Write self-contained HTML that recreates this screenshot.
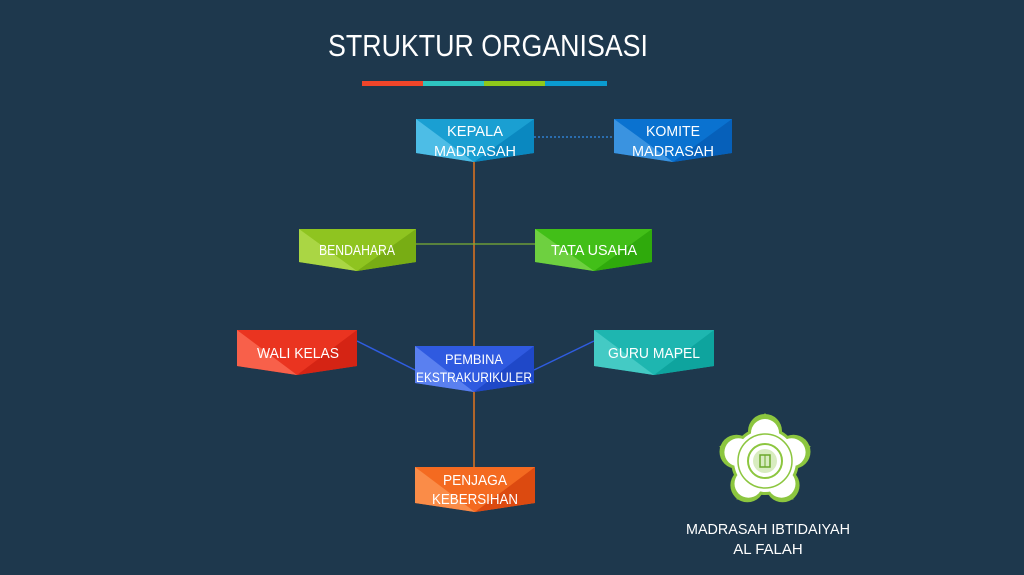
<!DOCTYPE html>
<html><head><meta charset="utf-8"><style>
html,body{margin:0;padding:0;background:#1e384d;}
svg{display:block}
text{font-family:"Liberation Sans",sans-serif;fill:#fff;}
</style></head><body>
<svg width="1024" height="575" viewBox="0 0 1024 575" xmlns="http://www.w3.org/2000/svg">
<rect width="1024" height="575" fill="#1e384d"/>
<text x="328" y="56" font-size="31" textLength="320" lengthAdjust="spacingAndGlyphs">STRUKTUR ORGANISASI</text>
<rect x="362" y="81" width="61" height="5" fill="#f0452a"/>
<rect x="423" y="81" width="61" height="5" fill="#2ec4c0"/>
<rect x="484" y="81" width="61" height="5" fill="#8fc81a"/>
<rect x="545" y="81" width="62" height="5" fill="#0a9bd0"/>
<line x1="474" y1="160" x2="474" y2="468" stroke="#e0741e" stroke-width="1.5"/>
<line x1="534" y1="137" x2="614" y2="137" stroke="#2f7fd0" stroke-width="1.5" stroke-dasharray="2,2"/>
<line x1="416" y1="244" x2="535" y2="244" stroke="#7cae34" stroke-width="1.2"/>
<line x1="357" y1="341" x2="415" y2="370" stroke="#2f5ce0" stroke-width="1.5"/>
<line x1="534" y1="370" x2="594" y2="341" stroke="#2f5ce0" stroke-width="1.5"/>
<g>
<polygon points="416,119 534,119 534,153 474,162 416,153" fill="#1a9fd2"/>
<polygon points="416,119 474,162 416,153" fill="#4dbde6"/>
<polygon points="534,119 534,153 474,162" fill="#0a88c0"/>
<text x="475" y="136" font-size="15" text-anchor="middle" textLength="56" lengthAdjust="spacingAndGlyphs">KEPALA</text>
<text x="475" y="156" font-size="15" text-anchor="middle" textLength="82" lengthAdjust="spacingAndGlyphs">MADRASAH</text>
</g>
<g>
<polygon points="614,119 732,119 732,153 673,162 614,153" fill="#0a72d0"/>
<polygon points="614,119 673,162 614,153" fill="#3a93e0"/>
<polygon points="732,119 732,153 673,162" fill="#0660ba"/>
<text x="673" y="136" font-size="15" text-anchor="middle" textLength="54" lengthAdjust="spacingAndGlyphs">KOMITE</text>
<text x="673" y="156" font-size="15" text-anchor="middle" textLength="82" lengthAdjust="spacingAndGlyphs">MADRASAH</text>
</g>
<g>
<polygon points="299,229 416,229 416,262 357,271 299,262" fill="#8fc420"/>
<polygon points="299,229 357,271 299,262" fill="#aad644"/>
<polygon points="416,229 416,262 357,271" fill="#78ad14"/>
<text x="357" y="255" font-size="15" text-anchor="middle" textLength="76" lengthAdjust="spacingAndGlyphs">BENDAHARA</text>
</g>
<g>
<polygon points="535,229 652,229 652,262 594,271 535,262" fill="#42bf18"/>
<polygon points="535,229 594,271 535,262" fill="#6ed040"/>
<polygon points="652,229 652,262 594,271" fill="#2faa0c"/>
<text x="594" y="255" font-size="15" text-anchor="middle" textLength="86" lengthAdjust="spacingAndGlyphs">TATA USAHA</text>
</g>
<g>
<polygon points="237,330 357,330 357,366 297,375 237,366" fill="#ea3420"/>
<polygon points="237,330 297,375 237,366" fill="#f8604a"/>
<polygon points="357,330 357,366 297,375" fill="#d52414"/>
<text x="298" y="358" font-size="15" text-anchor="middle" textLength="82" lengthAdjust="spacingAndGlyphs">WALI KELAS</text>
</g>
<g>
<polygon points="594,330 714,330 714,366 654,375 594,366" fill="#1eb6b0"/>
<polygon points="594,330 654,375 594,366" fill="#44cac4"/>
<polygon points="714,330 714,366 654,375" fill="#0ea49e"/>
<text x="654" y="358" font-size="15" text-anchor="middle" textLength="92" lengthAdjust="spacingAndGlyphs">GURU MAPEL</text>
</g>
<g>
<polygon points="415,346 534,346 534,383 474,392 415,383" fill="#2f5ae0"/>
<polygon points="415,346 474,392 415,383" fill="#5a80f0"/>
<polygon points="534,346 534,383 474,392" fill="#1f48c8"/>
<text x="474" y="364" font-size="14" text-anchor="middle" textLength="58" lengthAdjust="spacingAndGlyphs">PEMBINA</text>
<text x="474" y="382" font-size="14" text-anchor="middle" textLength="116" lengthAdjust="spacingAndGlyphs">EKSTRAKURIKULER</text>
</g>
<g>
<polygon points="415,467 535,467 535,503 475,512 415,503" fill="#f46a20"/>
<polygon points="415,467 475,512 415,503" fill="#fa8c48"/>
<polygon points="535,467 535,503 475,512" fill="#dc4a10"/>
<text x="475" y="485" font-size="15" text-anchor="middle" textLength="64" lengthAdjust="spacingAndGlyphs">PENJAGA</text>
<text x="475" y="504" font-size="15" text-anchor="middle" textLength="86" lengthAdjust="spacingAndGlyphs">KEBERSIHAN</text>
</g>
<g transform="translate(765,461)">
<g fill="#8cc63f">
<polygon points="0,-48 -6,-40 6,-40"/>
<polygon points="45.6,-14.8 38,-18 42,-7" transform=""/>
<polygon points="28.2,38.8 30,29 21,35"/>
<polygon points="-28.2,38.8 -30,29 -21,35"/>
<polygon points="-45.6,-14.8 -38,-18 -42,-7"/>
<circle cx="0" cy="-30" r="17"/><circle cx="28.5" cy="-9.3" r="17"/><circle cx="17.6" cy="24.3" r="17"/><circle cx="-17.6" cy="24.3" r="17"/><circle cx="-28.5" cy="-9.3" r="17"/>
<circle r="34"/>
</g>
<g fill="#fff">
<circle cx="0" cy="-28" r="14"/><circle cx="26.6" cy="-8.7" r="14"/><circle cx="16.5" cy="22.7" r="14"/><circle cx="-16.5" cy="22.7" r="14"/><circle cx="-26.6" cy="-8.7" r="14"/>
<circle r="31"/>
</g>
<circle r="27" fill="none" stroke="#8cc63f" stroke-width="1.5"/>
<circle r="17" fill="none" stroke="#8cc63f" stroke-width="2"/>
<circle r="12" fill="#d8ecc0"/>
<rect x="-5" y="-6" width="10" height="12" fill="none" stroke="#6aa82a" stroke-width="1.5"/>
<line x1="0" y1="-6" x2="0" y2="6" stroke="#6aa82a" stroke-width="1"/>
</g>
<text x="768" y="534" font-size="15" text-anchor="middle" textLength="164" lengthAdjust="spacingAndGlyphs">MADRASAH IBTIDAIYAH</text>
<text x="768" y="554" font-size="15" text-anchor="middle">AL FALAH</text>
</svg>
</body></html>
